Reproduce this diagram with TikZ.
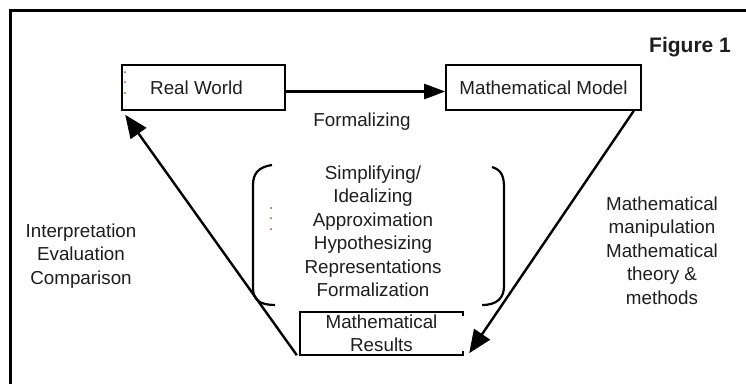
\documentclass[tikz,border=0pt]{standalone}
\usepackage{fontspec}
\setmainfont{Liberation Sans}
\usetikzlibrary{arrows.meta}
\definecolor{txt}{RGB}{30,30,30}
\definecolor{dotc}{RGB}{150,85,60}
\tikzset{
  box/.style={draw=black, line width=1.6pt, minimum width=#1, minimum height=45pt, inner sep=0pt, text=txt},
  lbl/.style={text=txt, align=center, inner sep=0pt, font=\fontsize{18.8}{23.5}\selectfont},
  conn/.style={line width=2.4pt},
  bigtip/.style={-{Triangle[length=23pt,width=19pt]}},
  htip/.style={-{Triangle[length=21pt,width=15pt]}},
  paren/.style={line width=2.2pt},
  speck/.style={fill=dotc, draw=none}
}
\begin{document}
\begin{tikzpicture}[x=1pt,y=-1pt]
\useasboundingbox (0,0) rectangle (746,383);
\fill[white] (0,0) rectangle (746,383);
% frame
\draw[line width=3pt] (10,390) -- (10,10) -- (750,10);
% title
\node[lbl, font=\fontsize{21}{24}\selectfont\bfseries] (fig) at (690,47) {Figure 1};
% boxes
\node[box=163pt, font=\fontsize{18.8}{23.5}\selectfont] (rw) at (203.5,87.5) {\hspace*{-14pt}Real World};
\node[box=195pt, font=\fontsize{18.8}{23.5}\selectfont] (mm) at (543.5,87.5) {Mathematical Model};
\node[lbl, minimum width=163pt, minimum height=43pt] (res) at (381.5,333.5) {Mathematical\\Results};
\draw[line width=1.6pt] ([yshift=-4pt]res.north east) -- (res.north east) -- (res.north west) -- (res.south west) -- (res.south east) -- ([yshift=4pt]res.south east);
% labels
\node[lbl] (form) at (362,122) {Formalizing};
\node[lbl] (list) at (373,231.5) {Simplifying/\\Idealizing\\Approximation\\Hypothesizing\\Representations\\Formalization};
\node[lbl] (interp) at (81,256) {Interpretation\\Evaluation\\Comparison};
\node[lbl] (manip) at (662,250.5) {Mathematical\\manipulation\\Mathematical\\theory \&\\methods};
% parentheses
\draw[paren] (272,165) .. controls (258,167) and (253,174) .. (253,185) -- (253,288) .. controls (253,300) and (260,305) .. (275,305);
\draw[paren] (492,167) .. controls (502,170) and (504,177) .. (504,188) -- (504,286) .. controls (504,298) and (497,305) .. (482,305);
% specks
\foreach \yy in {72,82,93} \fill[speck] (125,\yy) circle (1pt);
\foreach \yy in {208,218,229} \fill[speck] (271,\yy) circle (1pt);
% connectors
\draw[conn, htip] ([yshift=-4pt]rw.east) -- ([yshift=-4pt]mm.west);
\draw[conn, bigtip] ([xshift=-8pt]mm.south east) -- ([xshift=6pt,yshift=2pt]res.south east);
\draw[conn, bigtip] ([xshift=-3pt]res.south west) -- ([xshift=4pt,yshift=-4pt]rw.south west);
\end{tikzpicture}
\end{document}
